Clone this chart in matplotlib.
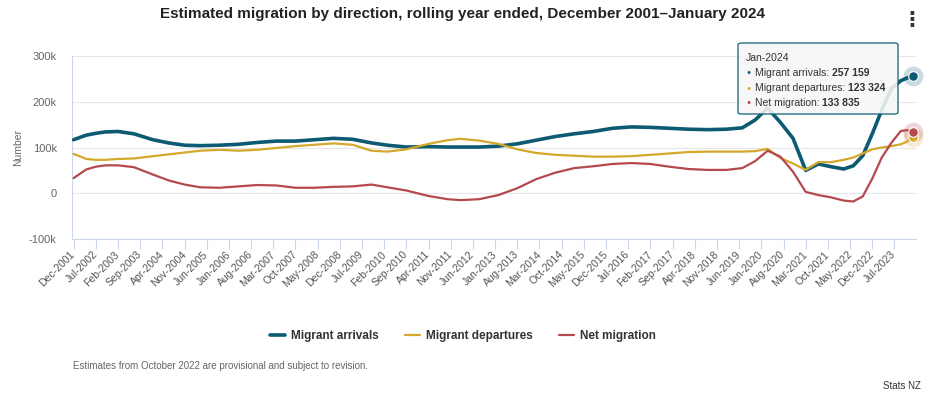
import matplotlib.pyplot as plt
from matplotlib.patches import FancyBboxPatch

plt.rcParams['font.family'] = ['Liberation Sans', 'DejaVu Sans']

# month index counted from Dec-2001, values in thousands
months = [0, 4, 7, 10, 14, 19, 25, 30, 35, 40, 46, 52, 58, 64, 70, 76, 82, 88, 94, 99,
          105, 112, 118, 122, 128, 134, 140, 146, 152, 158, 164, 170, 176, 182, 188, 194,
          200, 206, 211, 215, 219, 223, 227, 231, 235, 239, 243, 246, 249, 252, 255, 258,
          261, 263, 265]
arrivals = [117, 127, 131, 134, 135, 130, 117, 110, 105, 104, 105, 107, 111, 114, 114, 117,
            120, 118, 110, 105, 101, 102, 101, 101, 101, 103, 108, 116, 124, 130, 135, 142,
            145, 144, 142, 140, 139, 140, 143, 160, 186, 155, 120, 50, 64, 58, 53, 60, 82,
            130, 182, 228, 246, 252, 257.159]
departures = [86, 75, 73, 73, 75, 76, 81, 85, 89, 93, 95, 93, 95, 99, 103, 106, 109, 106,
              93, 91, 96, 108, 116, 119, 115, 108, 96, 88, 84, 82, 80, 80, 81, 84, 87, 90,
              91, 91, 91, 92, 97, 77, 65, 51, 68, 68, 73, 78, 87, 96, 100, 103, 107, 113,
              123.324]
net = [33, 52, 58, 61, 61, 57, 41, 28, 19, 13, 12, 15, 18, 17, 12, 12, 14, 15, 19, 13, 6,
       -6, -13, -15, -13, -4, 11, 31, 45, 55, 59, 64, 66, 64, 58, 53, 51, 51, 55, 70, 93,
       80, 47, 3, -4, -9, -16, -18, -7, 32, 78, 110, 136, 138, 133.835]

tick_labels = ['Dec-2001', 'Jul-2002', 'Feb-2003', 'Sep-2003', 'Apr-2004', 'Nov-2004',
               'Jun-2005', 'Jan-2006', 'Aug-2006', 'Mar-2007', 'Oct-2007', 'May-2008',
               'Dec-2008', 'Jul-2009', 'Feb-2010', 'Sep-2010', 'Apr-2011', 'Nov-2011',
               'Jun-2012', 'Jan-2013', 'Aug-2013', 'Mar-2014', 'Oct-2014', 'May-2015',
               'Dec-2015', 'Jul-2016', 'Feb-2017', 'Sep-2017', 'Apr-2018', 'Nov-2018',
               'Jun-2019', 'Jan-2020', 'Aug-2020', 'Mar-2021', 'Oct-2021', 'May-2022',
               'Dec-2022', 'Jul-2023']
tick_pos = [7 * i for i in range(len(tick_labels))]

series = [('Migrant arrivals', arrivals, '#0c5b72', 2.6),
          ('Migrant departures', departures, '#d4a82c', 1.6),
          ('Net migration', net, '#b4494e', 1.6)]

W, H = 934, 398
def px(x, y):
    return x / W, 1 - y / H

fig = plt.figure(figsize=(W / 100, H / 100), dpi=100)
ax = fig.add_axes([72 / W, 1 - 239 / H, 844 / W, 183 / H])

for name, vals, col, lw in series:
    ax.plot(months, vals, color=col, lw=lw, label=name, solid_capstyle='round', zorder=3)

# hover markers on last point
for name, vals, col, lw in series:
    ax.scatter(months[-1], vals[-1], s=200, color=col, alpha=0.22, lw=0, zorder=4, clip_on=False)
    ax.scatter(months[-1], vals[-1], s=48, color=col, edgecolor='white', lw=0.8, zorder=5, clip_on=False)

ax.set_xlim(-0.5, 265.8)
ax.set_ylim(-100, 300)
ax.set_yticks([-100, 0, 100, 200, 300])
ax.set_yticklabels(['-100k', '0', '100k', '200k', '300k'])
ax.set_xticks(tick_pos)
ax.set_xticklabels(tick_labels, rotation=45, ha='right', va='center', rotation_mode='anchor')
ax.tick_params(axis='y', length=0, pad=11, labelsize=8, labelcolor='#666666')
ax.tick_params(axis='x', length=7, width=0.8, color='#ccd6eb', pad=3, labelsize=7.5,
               labelcolor='#555555')
for v in [0, 100, 200, 300]:
    ax.axhline(v, color='#e6e6e6', lw=0.8, zorder=1)
for s in ['top', 'right']:
    ax.spines[s].set_visible(False)
for s in ['left', 'bottom']:
    ax.spines[s].set_color('#ccd6eb')
    ax.spines[s].set_linewidth(0.8)
ax.set_ylabel('Number', color='#666666', fontsize=7.5, labelpad=4)

fig.text(*px(462, 14), 'Estimated migration by direction, rolling year ended, December 2001\u2013January 2024',
         ha='center', va='center', fontsize=11, fontweight='bold', color='#222222')
fig.text(*px(912, 19), '\u22ee', ha='center', va='center', fontsize=15, fontweight='bold',
         color='#333333', family='DejaVu Sans')

# tooltip
x0, y0 = px(738, 114)
x1, y1 = px(898, 43)
box = FancyBboxPatch((x0, y0), x1 - x0, y1 - y0, boxstyle='round,pad=0,rounding_size=0.004',
                     transform=fig.transFigure, facecolor='#f7f7f7', alpha=0.88,
                     edgecolor='#0c5b72', lw=1, zorder=10)
fig.patches.append(box)
fig.text(*px(746, 58), 'Jan-2024', fontsize=7.5, color='#333333', va='center', zorder=11)
for i, (name, vals, col, lw) in enumerate(series):
    yy = 73 + 15 * i
    fig.text(*px(746, yy), '\u25cf', fontsize=5, color=col, va='center', zorder=11)
    t = fig.text(*px(755, yy), name + ': ', fontsize=7.5, color='#333333', va='center', zorder=11)
    num = f'{round(vals[-1] * 1000):,}'.replace(',', ' ')
    fig.canvas.draw()
    bb = t.get_window_extent()
    fig.text(bb.x1 / W, 1 - yy / H, num, fontsize=7.5, fontweight='bold', color='#333333',
             va='center', zorder=11)

ax.legend(loc='center', bbox_to_anchor=(px(463, 336)[0], px(463, 336)[1]),
          bbox_transform=fig.transFigure, ncol=3, frameon=False, handlelength=1.3,
          columnspacing=2.2, handletextpad=0.5,
          prop={'size': 8.5, 'weight': 'bold'}, labelcolor='#333333')

fig.text(*px(73, 366), 'Estimates from October 2022 are provisional and subject to revision.',
         fontsize=7, color='#666666', va='center')
fig.text(*px(921, 386), 'Stats NZ', fontsize=7, color='#333333', va='center', ha='right')

fig.savefig('out.png', dpi=100)
